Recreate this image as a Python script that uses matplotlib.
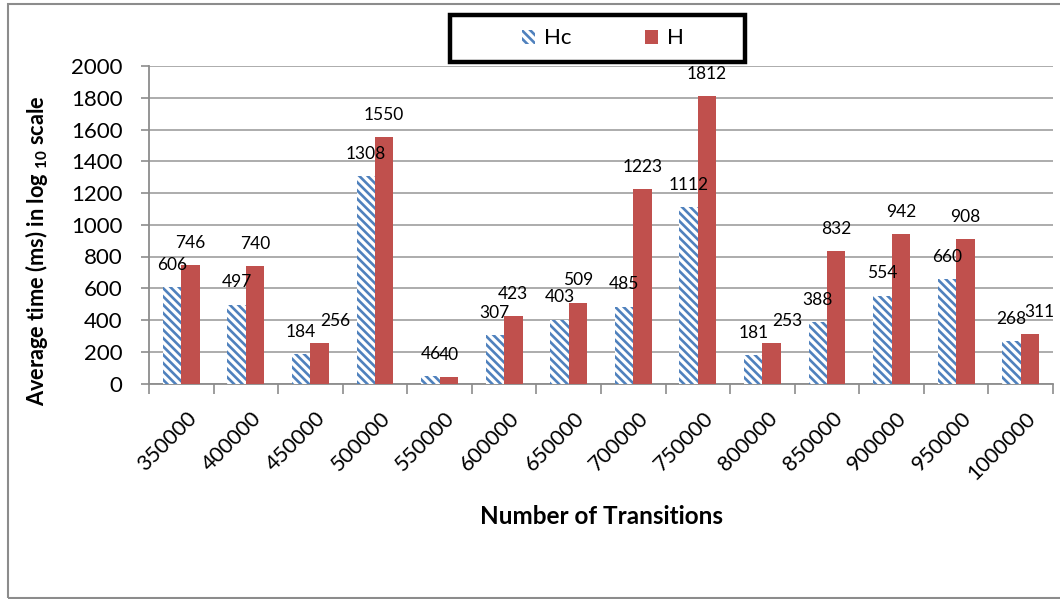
import matplotlib
matplotlib.use("Agg")
import matplotlib.pyplot as plt
from matplotlib.patches import Rectangle, Patch
from matplotlib.transforms import ScaledTranslation
import numpy as np

categories = ["350000", "400000", "450000", "500000", "550000", "600000", "650000",
              "700000", "750000", "800000", "850000", "900000", "950000", "1000000"]
hc_values = [606, 497, 184, 1308, 46, 307, 403, 485, 1112, 181, 388, 554, 660, 268]
h_values = [746, 740, 256, 1550, 40, 423, 509, 1223, 1812, 253, 832, 942, 908, 311]

BLUE = "#4F81BD"
RED = "#C0504D"
GRID = "#A6A6A6"
AXIS = "#8C8C8C"
HATCH = "\\" * 4

# sideways nudges (points) for H labels that would collide with their Hc neighbour
h_label_nudge = {2: 11.5, 9: 11.5, 13: 7.0}

plt.rcParams["font.family"] = ["Lato", "DejaVu Sans"]
plt.rcParams["mathtext.fontset"] = "custom"
plt.rcParams["mathtext.rm"] = "Lato:bold"
plt.rcParams["mathtext.bf"] = "Lato:bold"
plt.rcParams["hatch.linewidth"] = 1.9

W, H = 1060, 599
fig = plt.figure(figsize=(W / 100, H / 100), dpi=100)

# outer chart frame
fig.patches.append(Rectangle((7.5 / W, 1.5 / H), 1.2, 1 - 5.5 / H,
                             transform=fig.transFigure, fill=False,
                             edgecolor="#8C8C8C", linewidth=1.5))

left, right = 149 / W, 1053 / W
bottom, top = 1 - 383.5 / H, 1 - 66 / H
ax = fig.add_axes([left, bottom, right - left, top - bottom])

x = np.arange(len(categories))
w = 1 / 3.5
bars_hc = ax.bar(x - w / 2, hc_values, w, facecolor="white", edgecolor=BLUE,
                 hatch=HATCH, linewidth=0, label="Hc", zorder=3)
bars_h = ax.bar(x + w / 2, h_values, w, color=RED, linewidth=0, label="H", zorder=3)

for series, (bars, vals) in enumerate(((bars_hc, hc_values), (bars_h, h_values))):
    for i, (b, v) in enumerate(zip(bars, vals)):
        dx = h_label_nudge.get(i, 0) if series == 1 else 0
        ax.annotate(str(v), (b.get_x() + b.get_width() / 2, v),
                    xytext=(dx, 16), textcoords="offset points",
                    ha="center", va="center", fontsize=12.5, color="black", zorder=4)

ax.set_xlim(-0.5, len(categories) - 0.5)
ax.set_ylim(0, 2000)
ax.set_yticks(np.arange(0, 2001, 200))
ax.tick_params(axis="y", labelsize=16, length=6, color=AXIS, width=1.2, pad=13)
ax.set_xticks(x)
ax.set_xticklabels(categories, rotation=45, ha="right", rotation_mode="anchor",
                   fontsize=15.5)
ax.tick_params(axis="x", which="major", length=0, pad=18)
ax.set_xticks(np.arange(-0.5, len(categories)), minor=True)
ax.tick_params(axis="x", which="minor", length=7, color=AXIS, width=1.2)
shift = ScaledTranslation(5 / 100, 0, fig.dpi_scale_trans)
for lbl in ax.get_xticklabels():
    lbl.set_transform(lbl.get_transform() + shift)

ax.grid(axis="y", color=GRID, linewidth=1.3, zorder=0)
ax.set_axisbelow(True)
for s in ("top", "right"):
    ax.spines[s].set_visible(False)
for s in ("left", "bottom"):
    ax.spines[s].set_color(AXIS)
    ax.spines[s].set_linewidth(1.3)

fig.text(37 / W, 1 - 251 / H, r"Average time (ms) in log $_{\mathbf{10}}$ scale",
         rotation=90, ha="center", va="center", fontsize=15.7, fontweight="bold")
fig.text(602 / W, 1 - 517 / H, "Number of Transitions",
         ha="center", va="center", fontsize=17.5, fontweight="bold")

# legend box with a heavy black border
fig.patches.append(Rectangle((450 / W, 1 - 62 / H), 295 / W, 47 / H,
                             transform=fig.transFigure, facecolor="white",
                             edgecolor="black", linewidth=3.2, zorder=5))
handles = [Patch(facecolor="white", edgecolor=BLUE, hatch=HATCH, linewidth=0, label="Hc"),
           Patch(facecolor=RED, linewidth=0, label="H")]
leg = fig.legend(handles=handles, loc="center", bbox_to_anchor=(603 / W, 1 - 38.5 / H),
                 ncol=2, fontsize=16, frameon=False,
                 handlelength=0.6, handleheight=0.6, handletextpad=0.4,
                 columnspacing=3.3, borderpad=0.3)
leg.set_zorder(6)

fig.savefig("out.png", dpi=100)
